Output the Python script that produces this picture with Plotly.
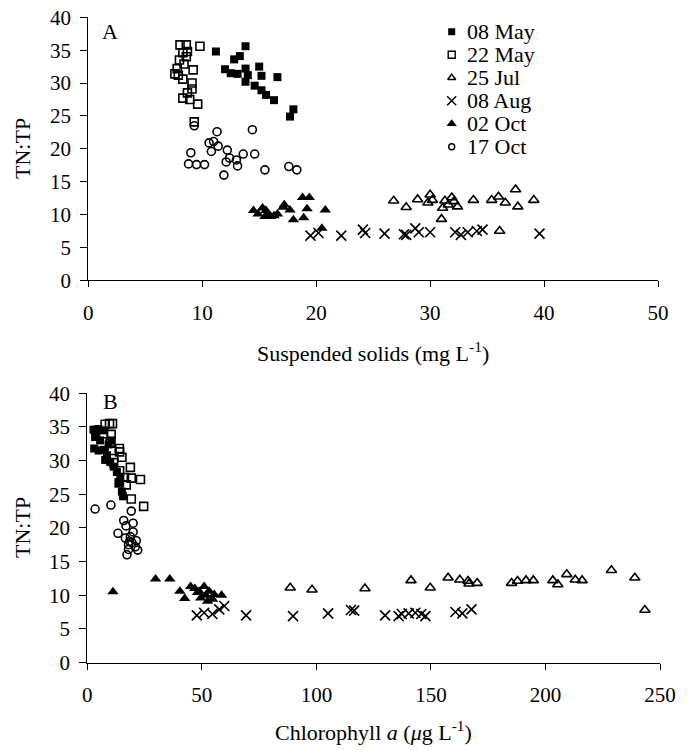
import plotly.graph_objects as go

# ---------------- data ----------------
dates = ["08 May", "22 May", "25 Jul", "08 Aug", "02 Oct", "17 Oct"]

# Panel A: suspended solids (mg/L) vs TN:TP
may08_ss = [11.2, 13.8, 13.3, 12.8, 12.0, 12.5, 13.1, 13.8, 14.0, 15.0, 15.2, 13.8, 14.6, 15.2, 15.6, 16.3, 16.6, 18.0, 17.7]
may08_ss_tntp = [34.8, 35.6, 34.1, 33.6, 32.1, 31.5, 31.4, 32.2, 31.2, 32.5, 31.1, 30.2, 29.6, 28.9, 28.2, 27.4, 30.9, 26.0, 24.9]

may22_ss = [8.05, 8.6, 9.8, 8.3, 8.7, 8.6, 8.0, 8.4, 7.8, 7.6, 7.9, 8.3, 9.2, 9.1, 9.1, 8.7, 8.3, 8.9, 9.6, 9.3]
may22_ss_tntp = [35.8, 35.8, 35.6, 34.6, 34.8, 34.0, 33.5, 32.9, 32.2, 31.4, 31.2, 30.6, 32.0, 30.0, 29.1, 28.5, 27.7, 27.5, 26.8, 24.1]

jul25_ss = [26.8, 27.9, 28.9, 29.8, 30.0, 30.2, 31.3, 31.6, 31.9, 32.1, 32.4, 31.1, 31.0, 33.8, 35.4, 36.0, 36.6, 37.5, 37.7, 39.1, 36.1]
jul25_ss_tntp = [12.1, 11.1, 12.3, 11.8, 13.0, 12.2, 12.1, 11.5, 12.6, 12.0, 11.2, 11.0, 9.3, 12.2, 12.2, 12.7, 11.8, 13.8, 11.2, 12.2, 7.5]

aug08_ss = [19.5, 20.2, 22.2, 24.1, 24.3, 26.0, 27.7, 27.9, 28.7, 29.0, 30.0, 32.2, 32.7, 33.3, 34.1, 34.6, 39.6]
aug08_ss_tntp = [6.8, 7.2, 6.8, 7.7, 7.2, 7.1, 7.0, 6.9, 7.9, 7.3, 7.3, 7.3, 6.9, 7.3, 7.5, 7.7, 7.1]

oct02_ss = [14.5, 14.9, 15.3, 15.6, 15.8, 16.3, 16.6, 17.1, 17.2, 17.7, 18.0, 18.9, 18.8, 19.4, 19.2, 20.8, 20.5, 15.5, 16.0]
oct02_ss_tntp = [10.6, 10.1, 11.0, 10.6, 10.0, 9.8, 10.1, 11.1, 11.5, 10.7, 9.2, 9.5, 12.6, 12.6, 10.9, 10.7, 7.9, 9.7, 9.7]

oct17_ss = [9.3, 11.3, 14.4, 10.6, 11.0, 11.4, 10.8, 12.2, 9.0, 13.6, 14.6, 12.4, 13.0, 12.1, 13.1, 8.8, 9.5, 10.2, 15.5, 17.6, 18.3, 11.9]
oct17_ss_tntp = [23.5, 22.6, 22.9, 20.9, 21.1, 20.4, 19.6, 19.8, 19.4, 19.2, 19.2, 18.6, 18.3, 18.0, 17.4, 17.7, 17.6, 17.6, 16.8, 17.3, 16.8, 16.0]

# Panel B: chlorophyll a (ug/L) vs TN:TP
may08_chl = [2.7, 4.9, 7.1, 3.4, 5.6, 3.0, 4.9, 7.1, 8.6, 7.8, 10.0, 11.5, 12.9, 14.4, 13.7, 15.1, 15.6, 9.3, 10.7]
may08_chl_tntp = [34.6, 34.7, 34.5, 33.5, 33.0, 31.8, 31.5, 31.6, 30.8, 30.1, 29.8, 29.1, 28.3, 27.4, 26.6, 25.4, 24.7, 32.4, 33.0]

may22_chl = [7.8, 9.7, 11.0, 10.4, 10.0, 14.0, 14.1, 15.1, 11.5, 14.1, 18.8, 16.2, 19.2, 23.2, 14.0, 17.0, 19.2, 24.6, 7.1, 10.8]
may22_chl_tntp = [35.4, 35.5, 35.5, 33.9, 32.6, 31.8, 31.3, 30.5, 29.7, 28.5, 29.0, 27.5, 27.4, 27.2, 26.7, 26.4, 24.3, 23.2, 34.0, 31.5]

jul25_chl = [88.6, 98.1, 121.2, 141.3, 149.7, 157.5, 162.6, 166.2, 166.6, 170.2, 185.2, 187.8, 191.5, 194.7, 203.2, 205.4, 209.3, 213.0, 216.0, 228.8, 239.0, 243.4]
jul25_chl_tntp = [11.1, 10.8, 11.0, 12.2, 11.1, 12.6, 12.3, 12.1, 11.7, 11.8, 11.8, 12.1, 12.2, 12.2, 12.2, 11.6, 13.1, 12.3, 12.2, 13.7, 12.6, 7.8]

aug08_chl = [47.8, 51.0, 54.6, 57.6, 59.8, 69.3, 89.8, 105.1, 115.1, 116.5, 130.0, 135.9, 137.3, 140.3, 143.2, 145.8, 147.6, 160.7, 163.7, 167.7]
aug08_chl_tntp = [7.0, 7.4, 7.2, 7.9, 8.4, 7.0, 6.9, 7.3, 7.8, 7.7, 7.0, 6.9, 7.2, 7.3, 7.4, 7.2, 6.9, 7.5, 7.3, 7.9]

oct02_chl = [11.2, 29.8, 36.0, 40.4, 42.5, 45.1, 46.9, 48.8, 51.0, 49.5, 51.7, 53.2, 55.4, 58.6, 48.1, 52.5, 54.7]
oct02_chl_tntp = [10.5, 12.4, 12.4, 10.6, 9.5, 11.3, 11.0, 10.6, 11.3, 9.6, 10.0, 10.6, 10.1, 10.0, 10.4, 9.1, 9.4]

oct17_chl = [3.4, 10.3, 19.2, 15.9, 20.0, 16.9, 13.4, 20.0, 16.6, 18.8, 18.5, 21.4, 18.0, 21.0, 22.0, 18.0, 17.3, 19.5]
oct17_chl_tntp = [22.8, 23.4, 22.5, 21.1, 20.7, 20.3, 19.2, 19.4, 18.5, 18.7, 18.0, 18.1, 17.5, 17.2, 16.7, 16.8, 16.0, 17.8]

ss_ticks = [0, 10, 20, 30, 40, 50]
chl_ticks = [0, 50, 100, 150, 200, 250]
tntp_ticks = [0, 5, 10, 15, 20, 25, 30, 35, 40]

# ---------------- styling ----------------
FONT = "Liberation Serif"
styles = [
    dict(symbol="square", size=8, color="black", line=dict(width=0)),
    dict(symbol="square-open", size=8, color="black", line=dict(width=1.6, color="black")),
    dict(symbol="triangle-up-open", size=9, color="black", line=dict(width=1.6, color="black")),
    dict(symbol="x-thin-open", size=10, color="black", line=dict(width=1.6, color="black")),
    dict(symbol="triangle-up", size=10, color="black", line=dict(width=0)),
    dict(symbol="circle-open", size=8, color="black", line=dict(width=1.6, color="black")),
]
legend_styles = [
    dict(symbol="square", size=7, color="black", line=dict(width=0)),
    dict(symbol="square-open", size=7, color="black", line=dict(width=1.4, color="black")),
    dict(symbol="triangle-up-open", size=7, color="black", line=dict(width=1.4, color="black")),
    dict(symbol="x-thin-open", size=9, color="black", line=dict(width=1.5, color="black")),
    dict(symbol="triangle-up", size=9, color="black", line=dict(width=0)),
    dict(symbol="circle-open", size=6, color="black", line=dict(width=1.4, color="black")),
]

panelA = [(may08_ss, may08_ss_tntp), (may22_ss, may22_ss_tntp), (jul25_ss, jul25_ss_tntp),
          (aug08_ss, aug08_ss_tntp), (oct02_ss, oct02_ss_tntp), (oct17_ss, oct17_ss_tntp)]
panelB = [(may08_chl, may08_chl_tntp), (may22_chl, may22_chl_tntp), (jul25_chl, jul25_chl_tntp),
          (aug08_chl, aug08_chl_tntp), (oct02_chl, oct02_chl_tntp), (oct17_chl, oct17_chl_tntp)]

fig = go.Figure()
for i, d in enumerate(dates):
    xa, ya = panelA[i]
    fig.add_trace(go.Scatter(x=xa, y=ya, mode="markers", name=d, marker=styles[i],
                             xaxis="x", yaxis="y", showlegend=False, cliponaxis=False))
for i, d in enumerate(dates):
    xb, yb = panelB[i]
    fig.add_trace(go.Scatter(x=xb, y=yb, mode="markers", name=d, marker=styles[i],
                             xaxis="x2", yaxis="y2", showlegend=False, cliponaxis=False))

# legend keys on their own small axis (row index = series index)
legend_rows = list(range(len(dates)))
for i, d in enumerate(dates):
    fig.add_trace(go.Scatter(x=[0], y=[legend_rows[i]], mode="markers", marker=legend_styles[i],
                             xaxis="x3", yaxis="y3", showlegend=False, cliponaxis=False))

# page body has an 8px margin: figure sits at (8, 8) in the window
OFF = 8
W, H = 685, 742
def fx(p):
    return (p - OFF) / W
def fy(p):
    return 1 - (p - OFF) / H
def px_x(a, b):
    return [fx(a), fx(b)]
def px_y(top, bottom):
    return [fy(bottom), fy(top)]

common = dict(showline=True, linecolor="black", linewidth=1.3, ticks="outside", tickwidth=1.3,
              tickcolor="black", showgrid=False, zeroline=False, automargin=False,
              ticklabeloverflow="allow",
              tickfont=dict(family=FONT, size=21, color="black"))

fig.update_layout(
    width=W, height=H,
    margin=dict(l=0, r=0, t=0, b=0, autoexpand=False),
    paper_bgcolor="white", plot_bgcolor="white",
    showlegend=False,
    xaxis=dict(**common, domain=px_x(88.3, 658), range=[0, 50], tickvals=ss_ticks, ticklen=6,
               anchor="y", ticklabelstandoff=7),
    yaxis=dict(**common, domain=px_y(17.3, 280.3), range=[0, 40], tickvals=tntp_ticks, ticklen=7,
               anchor="x", ticklabelstandoff=5),
    xaxis2=dict(**common, domain=px_x(87.3, 660), range=[0, 250], tickvals=chl_ticks, ticklen=6,
                anchor="y2", ticklabelstandoff=7),
    yaxis2=dict(**common, domain=px_y(393.3, 662.5), range=[0, 40], tickvals=tntp_ticks, ticklen=7,
                anchor="x2", ticklabelstandoff=5),
    xaxis3=dict(domain=px_x(440, 600), range=[-11.7, 148.3], visible=False, fixedrange=True,
                anchor="y3", automargin=False),
    yaxis3=dict(domain=px_y(20.2, 158.2), range=[5.5, -0.5], visible=False, fixedrange=True,
                anchor="x3", automargin=False),
)

annos = []
for i, d in enumerate(dates):
    annos.append(dict(x=13, y=legend_rows[i], xref="x3", yref="y3", text=d, showarrow=False,
                      xanchor="left", yanchor="middle", font=dict(family=FONT, size=22, color="black")))

tfont = dict(family=FONT, size=22, color="black")
annos += [
    dict(x=fx((88.3 + 658) / 2), y=fy(352), xref="paper", yref="paper",
         text="Suspended solids (mg L<sup>-1</sup>)", showarrow=False, xanchor="center", yanchor="middle", font=tfont),
    dict(x=fx((87.3 + 660) / 2), y=fy(731), xref="paper", yref="paper",
         text="Chlorophyll <i>a</i> (<i>μ</i>g L<sup>-1</sup>)", showarrow=False, xanchor="center", yanchor="middle", font=tfont),
    dict(x=fx(22), y=fy(149), xref="paper", yref="paper", text="TN:TP", textangle=-90,
         showarrow=False, xanchor="center", yanchor="middle", font=tfont),
    dict(x=fx(22), y=fy(528), xref="paper", yref="paper", text="TN:TP", textangle=-90,
         showarrow=False, xanchor="center", yanchor="middle", font=tfont),
    dict(x=fx(110), y=fy(31.5), xref="paper", yref="paper", text="A", showarrow=False,
         xanchor="center", yanchor="middle", font=dict(family=FONT, size=22, color="black")),
    dict(x=fx(110), y=fy(401.5), xref="paper", yref="paper", text="B", showarrow=False,
         xanchor="center", yanchor="middle", font=dict(family=FONT, size=22, color="black")),
]
fig.update_layout(annotations=annos)

fig.write_html("out.html")
